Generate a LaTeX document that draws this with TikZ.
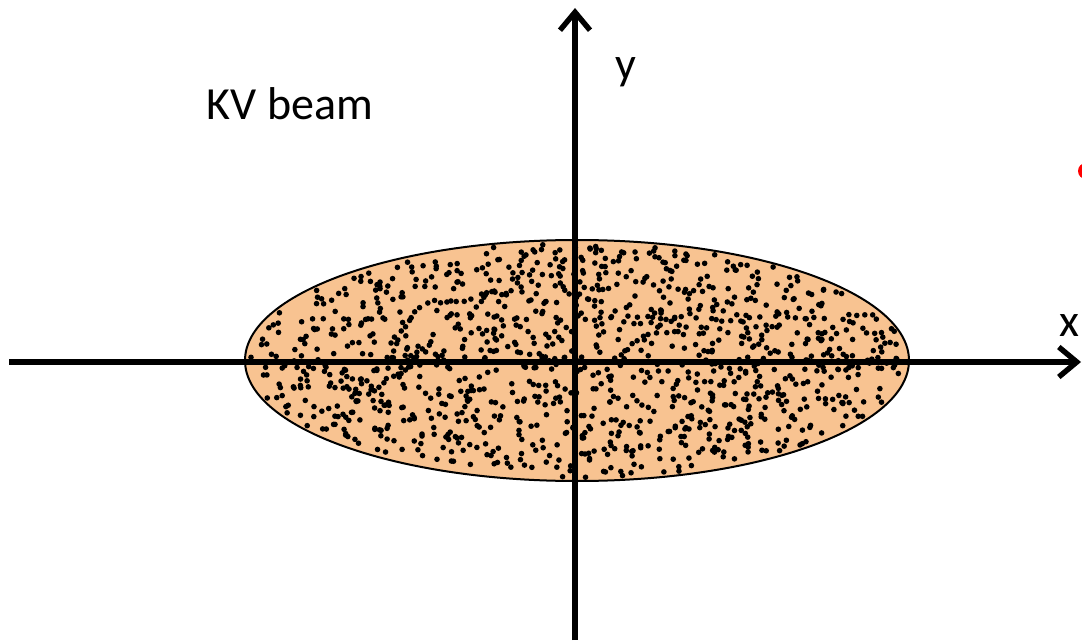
\documentclass[tikz,border=0pt]{standalone}
\usepackage{fontspec}
\setmainfont{Carlito}
\usetikzlibrary{arrows.meta,shapes.geometric}
\definecolor{beam}{HTML}{F8C391}
\begin{document}
\begin{tikzpicture}[x=0.5pt,y=-0.5pt,
  axisline/.style={line width=2.7pt,-{Straight Barb[length=9pt,width=15pt,line width=2.7pt]}},
  lbl/.style={font=\fontsize{23}{27}\selectfont, inner sep=0pt},
  dot/.style={fill=black}]
\useasboundingbox (0,0) rectangle (1082,642);
\begin{scope}
\clip (0,0) rectangle (1082,642);
\node[ellipse, draw=black, line width=1pt, fill=beam, minimum width=332pt, minimum height=120.5pt, inner sep=0pt] (beam) at (577,360.5) {};
\pgfmathsetseed{7}
\foreach \i in {1,...,1200}{
  \pgfmathsetmacro\r{sqrt(rnd)}
  \pgfmathsetmacro\t{360*rnd}
  \fill[dot] ({577+328*\r*cos(\t)},{360.5+117*\r*sin(\t)}) circle[radius=2.8];
}
\coordinate (xl) at (9,362);
\coordinate (xr) at (1081,362);
\coordinate (yb) at (575,640);
\coordinate (yt) at (575,8);
\draw[axisline] (xl) -- (xr);
\draw[axisline] (yb) -- (yt);
\node[ellipse, fill=red, minimum width=8pt, minimum height=8pt, inner sep=0pt] (redmark) at (1086,171) {};
\end{scope}
\node[lbl] (ylab) at (626,72) {y};
\node[lbl] (xlab) at (1069,326) {x};
\node[lbl] (title) at (290,104) {KV beam};
\end{tikzpicture}
\end{document}
